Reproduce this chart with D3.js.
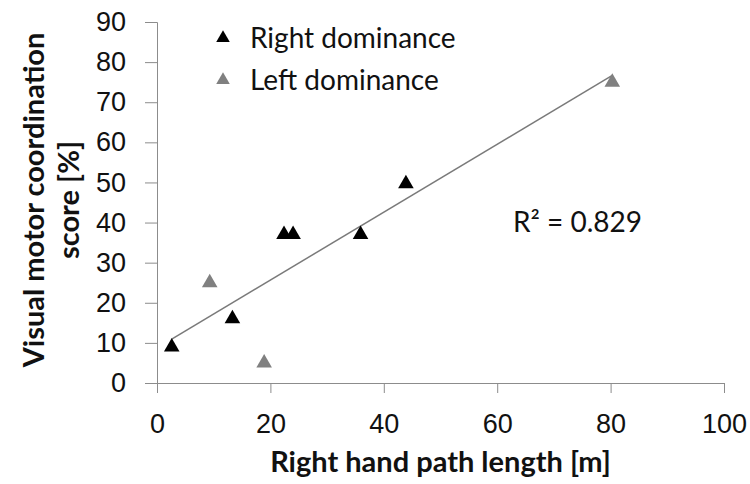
<!DOCTYPE html>
<html>
<head>
<meta charset="utf-8">
<script src="https://cdn.jsdelivr.net/npm/d3@7"></script>
<style>
  body { margin: 0; background: #fff; }
  svg { display: block; font-family: Lato, "Open Sans", sans-serif; }
</style>
</head>
<body>
<svg id="chart"></svg>
<script>
// Data
const rightX = [2.6, 13.3, 22.4, 24.0, 35.9, 43.9];
const rightY = [9, 16, 37, 37, 37, 49.7];
const leftX = [9.3, 18.9, 80.3];
const leftY = [25, 5, 75];
const xTicks = [0, 20, 40, 60, 80, 100];
const yTicks = [0, 10, 20, 30, 40, 50, 60, 70, 80, 90];
const seriesNames = ['Right dominance', 'Left dominance'];
const rSquaredLabel = 'R² = 0.829';

const width = 750;
const height = 484;
const marginTop = 22;
const marginRight = 26;
const marginBottom = 101;
const marginLeft = 157;

const svg = d3.select('#chart')
  .attr('width', width)
  .attr('height', height)
  .attr('viewBox', [0, 0, width, height]);

const x = d3.scaleLinear().domain([0, 100]).range([marginLeft, width - marginRight]);
const y = d3.scaleLinear().domain([0, 90]).range([height - marginBottom, marginTop]);

const axisColor = '#8c8c8c';
const gray = '#808080';

// x axis
svg.append('g')
  .attr('transform', `translate(0,${y(0)})`)
  .call(d3.axisBottom(x).tickValues(xTicks).tickSize(10).tickPadding(21))
  .call(g => g.select('.domain').attr('stroke', axisColor))
  .call(g => g.selectAll('.tick line').attr('stroke', axisColor))
  .call(g => g.selectAll('text').attr('font-size', 27).attr('fill', '#111'));

// y axis
svg.append('g')
  .attr('transform', `translate(${x(0)},0)`)
  .call(d3.axisLeft(y).tickValues(yTicks).tickSize(12).tickPadding(19))
  .call(g => g.select('.domain').attr('stroke', axisColor))
  .call(g => g.selectAll('.tick line').attr('stroke', axisColor))
  .call(g => g.selectAll('text').attr('font-size', 27).attr('fill', '#111'));

// trendline from least squares over all points
const allX = rightX.concat(leftX);
const allY = rightY.concat(leftY);
const mx = d3.mean(allX), my = d3.mean(allY);
const slope = d3.sum(allX, (v, i) => (v - mx) * (allY[i] - my)) / d3.sum(allX, v => (v - mx) ** 2);
const intercept = my - slope * mx;
const [x0, x1] = d3.extent(allX);

svg.append('line')
  .attr('x1', x(x0)).attr('y1', y(intercept + slope * x0))
  .attr('x2', x(x1)).attr('y2', y(intercept + slope * x1))
  .attr('stroke', '#7a7a7a')
  .attr('stroke-width', 1.5);

const tri = d3.symbol().type(d3.symbolTriangle).size(105);

svg.append('g').attr('fill', '#000')
  .selectAll('path')
  .data(rightX.map((v, i) => [v, rightY[i]]))
  .join('path')
  .attr('transform', d => `translate(${x(d[0])},${y(d[1])})`)
  .attr('d', tri);

svg.append('g').attr('fill', gray)
  .selectAll('path')
  .data(leftX.map((v, i) => [v, leftY[i]]))
  .join('path')
  .attr('transform', d => `translate(${x(d[0])},${y(d[1])})`)
  .attr('d', tri);

// legend
const legend = svg.append('g').attr('transform', 'translate(223,38)');
legend.selectAll('g')
  .data(seriesNames)
  .join('g')
  .attr('transform', (d, i) => `translate(0,${i * 42})`)
  .call(g => g.append('path')
    .attr('d', d3.symbol().type(d3.symbolTriangle).size(80))
    .attr('fill', (d, i) => i === 0 ? '#000' : gray))
  .call(g => g.append('text')
    .attr('x', 27)
    .attr('dy', '0.35em')
    .attr('font-size', 28)
    .attr('fill', '#111')
    .text(d => d));

// R squared label
svg.append('text')
  .attr('x', 513)
  .attr('y', 232)
  .attr('font-size', 28)
  .attr('fill', '#111')
  .text(rSquaredLabel);

// axis titles
svg.append('text')
  .attr('x', (marginLeft + width - marginRight) / 2)
  .attr('y', 472)
  .attr('text-anchor', 'middle')
  .attr('font-size', 29)
  .attr('font-weight', 'bold')
  .attr('fill', '#111')
  .text('Right hand path length [m]');

const yTitle = svg.append('text')
  .attr('transform', 'translate(0,200) rotate(-90)')
  .attr('text-anchor', 'middle')
  .attr('font-size', 29)
  .attr('font-weight', 'bold')
  .attr('fill', '#111');
yTitle.append('tspan').attr('x', 0).attr('y', 44).text('Visual motor coordination');
yTitle.append('tspan').attr('x', 0).attr('y', 79).text('score [%]');
</script>
</body>
</html>
